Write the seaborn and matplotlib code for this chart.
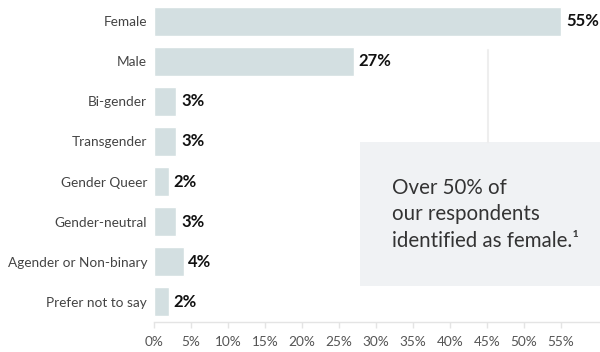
import matplotlib
matplotlib.use("Agg")
import matplotlib.pyplot as plt
import seaborn as sns
import pandas as pd
from matplotlib.patches import Rectangle
from matplotlib.lines import Line2D

categories = ["Female", "Male", "Bi-gender", "Transgender", "Gender Queer",
              "Gender-neutral", "Agender or Non-binary", "Prefer not to say"]
shares = [55, 27, 3, 3, 2, 3, 4, 2]
tick_values = [0, 5, 10, 15, 20, 25, 30, 35, 40, 45, 50, 55]
callout_lines = ["Over 50% of", "our respondents", "identified as female.\u00b9"]

df = pd.DataFrame({"gender": categories, "share": shares})

sns.set_theme(style="white")
plt.rcParams["font.family"] = ["Lato", "DejaVu Sans"]

fig = plt.figure(figsize=(6.0, 3.52), dpi=100)
ax = fig.add_axes([154 / 600, 30 / 352, 446 / 600, 321 / 352])

sns.barplot(data=df, x="share", y="gender", orient="h", color="#d3dfe1",
            width=0.72, saturation=1, ax=ax)

for i, v in enumerate(shares):
    ax.annotate(f"{v}%", xy=(v, i), xytext=(3.5, 0), textcoords="offset points",
                ha="left", va="center", fontsize=12, fontweight="bold",
                color="#111111")

ax.set_xlim(0, 446 / 7.4)
ax.set_ylim(len(categories) - 0.5, -0.5)
ax.set_xticks(tick_values)
ax.set_xticklabels([f"{t}%" for t in tick_values])
ax.set_xlabel("")
ax.set_ylabel("")

for side in ["top", "right", "left"]:
    ax.spines[side].set_visible(False)
ax.spines["bottom"].set_color("#e4e4e4")
ax.spines["bottom"].set_linewidth(1)
ax.tick_params(axis="x", length=4, width=1, color="#e4e4e4",
               labelsize=9.8, labelcolor="#555555", pad=6, bottom=True)
ax.tick_params(axis="y", length=0, labelsize=9.8, labelcolor="#444444", pad=5)

# leader line and callout box
fig.add_artist(Line2D([488 / 600, 488 / 600], [1 - 50 / 352, 1 - 142 / 352],
                      transform=fig.transFigure, color="#eeeeee", linewidth=1.5))
fig.add_artist(Rectangle((360 / 600, 1 - 286 / 352), 240 / 600, 144 / 352,
                         transform=fig.transFigure, facecolor="#f0f2f4",
                         edgecolor="none"))
for k, line in enumerate(callout_lines):
    fig.text(392 / 600, 1 - (188 + 26.5 * k) / 352, line, fontsize=14.8,
             color="#333333", ha="left", va="center")

fig.savefig("out.png", dpi=100)
